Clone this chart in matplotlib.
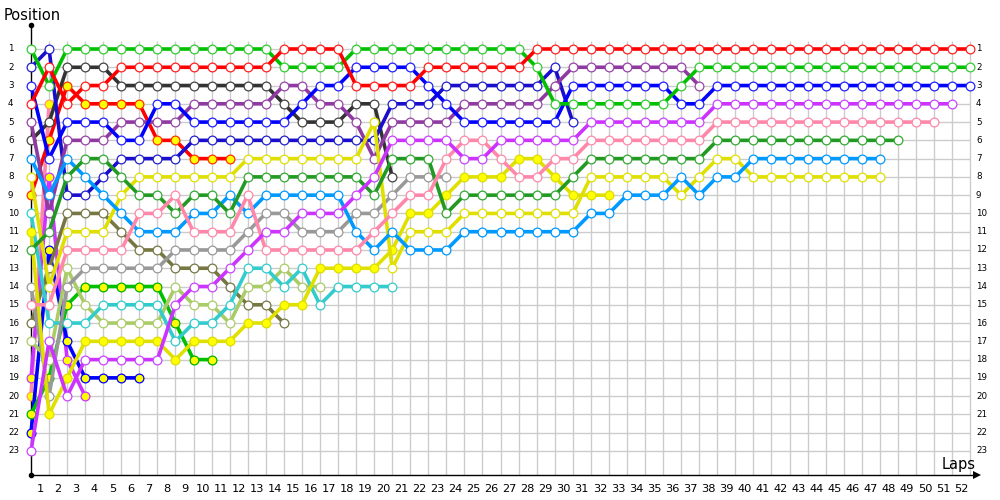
import matplotlib
matplotlib.use("Agg")
import matplotlib.pyplot as plt
from matplotlib.transforms import blended_transform_factory

# ---------------- data (position at each lap, starting at lap 0 = grid) ----------------
lap_labels = [str(k) for k in range(1, 53)]
position_labels = [str(p) for p in range(1, 24)]

red_white = [4, 2, 4, 3, 3, 2, 2, 2, 2, 2, 2, 2, 2, 2, 1, 1, 1, 1, 3, 3, 3, 3, 2, 2, 2, 2, 2, 2,
             1, 1, 1, 1, 1, 1, 1, 1, 1, 1, 1, 1, 1, 1, 1, 1, 1, 1, 1, 1, 1, 1, 1, 1, 1]
green_white = [1, 3, 1, 1, 1, 1, 1, 1, 1, 1, 1, 1, 1, 1, 2, 2, 2, 2, 1, 1, 1, 1, 1, 1, 1, 1, 1, 1,
               2, 4, 4, 4, 4, 4, 4, 4, 3, 2, 2, 2, 2, 2, 2, 2, 2, 2, 2, 2, 2, 2, 2, 2, 2]
blue_white = [3, 7, 5, 5, 5, 6, 6, 4, 4, 5, 5, 5, 5, 5, 5, 4, 3, 3, 2, 2, 2, 2, 3, 4, 5, 5, 5, 5,
              5, 5, 3, 3, 3, 3, 3, 3, 4, 4, 3, 3, 3, 3, 3, 3, 3, 3, 3, 3, 3, 3, 3, 3, 3]
violet_white = [23, 17, 20, 18, 18, 18, 18, 18, 15, 14, 14, 13, 12, 11, 11, 10, 10, 10, 9, 8, 6, 6,
                6, 6, 7, 7, 6, 6, 6, 6, 6, 5, 5, 5, 5, 5, 5, 5, 4, 4, 4, 4, 4, 4, 4, 4, 4, 4,
                4, 4, 4, 4]
pink_white = [15, 15, 12, 12, 12, 12, 10, 10, 9, 11, 11, 11, 9, 12, 12, 12, 12, 12, 12, 11, 10, 9,
              9, 7, 6, 6, 7, 8, 8, 7, 7, 6, 6, 6, 6, 6, 6, 6, 5, 5, 5, 5, 5, 5, 5, 5, 5, 5, 5,
              5, 5]
darkgreen_white = [12, 11, 8, 7, 7, 8, 9, 9, 10, 9, 9, 10, 8, 8, 8, 8, 8, 8, 8, 9, 7, 7, 7, 10, 9,
                   9, 9, 9, 9, 9, 8, 7, 7, 7, 7, 7, 7, 7, 6, 6, 6, 6, 6, 6, 6, 6, 6, 6, 6]
lightblue_white = [7, 9, 7, 8, 9, 10, 11, 11, 11, 10, 10, 9, 10, 9, 9, 9, 9, 9, 11, 12, 11, 12, 12,
                   12, 11, 11, 11, 11, 11, 11, 11, 10, 10, 9, 9, 9, 8, 9, 8, 8, 7, 7, 7, 7, 7, 7,
                   7, 7]
yellow_white = [8, 14, 11, 11, 11, 9, 8, 8, 8, 8, 8, 8, 7, 7, 7, 7, 7, 7, 7, 5, 13, 11, 11, 11, 10,
                10, 10, 10, 10, 10, 10, 8, 8, 8, 8, 8, 9, 8, 7, 7, 8, 8, 8, 8, 8, 8, 8, 8]
purple_white = [5, 10, 6, 6, 6, 5, 5, 5, 5, 4, 4, 4, 4, 4, 3, 3, 4, 4, 5, 7, 5, 5, 5, 5, 4, 4, 4, 4,
                4, 3, 2, 2, 2, 2, 2, 2, 2, 3]
yellow_filled = [11, 21, 19, 17, 17, 17, 17, 17, 18, 17, 17, 17, 16, 16, 15, 15, 13, 13, 13, 13, 12,
                 10, 10, 9, 8, 8, 8, 7, 7, 8, 9, 9, 9]
navy_white = [2, 1, 9, 9, 8, 7, 7, 7, 7, 6, 6, 6, 6, 6, 6, 6, 6, 6, 6, 6, 4, 4, 4, 3, 3, 3, 3, 3, 3,
              2, 5]
grey_white = [14, 20, 14, 13, 13, 13, 13, 13, 12, 12, 12, 12, 11, 10, 10, 11, 11, 11, 10, 10, 9, 8,
              8, 8]
darkgrey_white = [6, 5, 2, 2, 2, 3, 3, 3, 3, 3, 3, 3, 3, 3, 4, 5, 5, 5, 4, 4, 8]
cyan_white = [10, 16, 16, 16, 15, 15, 15, 15, 17, 16, 16, 15, 13, 13, 14, 13, 15, 14, 14, 14, 14]
lightgreen_white = [17, 18, 13, 15, 16, 16, 16, 16, 14, 15, 15, 16, 14, 14, 13, 14, 14]
olive_white = [16, 13, 10, 10, 10, 11, 12, 12, 13, 13, 13, 14, 15, 15, 16]
red_filled = [9, 6, 3, 4, 4, 4, 4, 6, 6, 7, 7, 7]
green_filled = [21, 19, 15, 14, 14, 14, 14, 14, 16, 18, 18]
blue_filled = [22, 12, 17, 19, 19, 19, 19]
violet_filled = [19, 8, 18, 20]
pink_filled = [20, 4]

# (values, line colour, marker face colour, marker edge colour)
series = [
    (pink_filled, "#ff88aa", "#ffff00", "#ff9966"),
    (violet_filled, "#cc33ff", "#ffff00", "#cc33ff"),
    (blue_filled, "#0000ff", "#ffff00", "#0000ff"),
    (green_filled, "#00c000", "#ffff00", "#00b000"),
    (red_filled, "#ff0000", "#ffff00", "#ff3300"),
    (olive_white, "#777744", "white", "#777744"),
    (lightgreen_white, "#aacc66", "white", "#aacc66"),
    (cyan_white, "#33cccc", "white", "#33cccc"),
    (darkgrey_white, "#333333", "white", "#444444"),
    (grey_white, "#999999", "white", "#999999"),
    (navy_white, "#1a0dcc", "white", "#2222cc"),
    (yellow_filled, "#e0e000", "#ffff00", "#dddd00"),
    (purple_white, "#8e3aa0", "white", "#9944aa"),
    (yellow_white, "#e0e000", "white", "#e0e000"),
    (lightblue_white, "#0099ff", "white", "#0099ff"),
    (darkgreen_white, "#229922", "white", "#33aa33"),
    (pink_white, "#ff88aa", "white", "#ff88aa"),
    (violet_white, "#cc33ff", "white", "#cc44ff"),
    (blue_white, "#0000ff", "white", "#2222ff"),
    (green_white, "#00c000", "white", "#33cc33"),
    (red_white, "#ff0000", "white", "#ff2222"),
]

# ---------------- layout ----------------
W, H = 1000, 500
fig = plt.figure(figsize=(W / 100, H / 100), dpi=100)
x0_px, step_x = 31, 18.06
y1_px, step_y = 49, 18.27
ax_left, ax_right, ax_top, ax_bottom = 31, 985, 25, 475
ax = fig.add_axes([ax_left / W, 1 - ax_bottom / H, (ax_right - ax_left) / W, (ax_bottom - ax_top) / H])
ax.set_xlim(0, (ax_right - x0_px) / step_x)
ax.set_ylim(1 + (ax_bottom - y1_px) / step_y, 1 + (ax_top - y1_px) / step_y)
ax.axis("off")

n_laps = len(lap_labels)
n_pos = len(position_labels)
grid_c = "#cccccc"
ax.vlines(range(1, n_laps + 1), 0.55, 1 + (ax_bottom - y1_px) / step_y, colors=grid_c, lw=1.0, zorder=0)
ax.hlines(range(1, n_pos + 1), 0, n_laps, colors=grid_c, lw=1.0, zorder=0)

# axes lines with arrow heads
ybot = 1 + (ax_bottom - y1_px) / step_y
ytop = 1 + (ax_top - y1_px) / step_y
xr = (ax_right - 8 - x0_px) / step_x
ax.plot([0, 0], [ybot, ytop], color="black", lw=1.0, zorder=5, clip_on=False, solid_capstyle="butt")
ax.plot([0, xr], [ybot, ybot], color="black", lw=1.0, zorder=5, clip_on=False, solid_capstyle="butt")
ax.plot([0], [ytop], marker="o", ms=3, color="black", zorder=6, clip_on=False)
ax.plot([0], [ybot], marker="o", ms=3, color="black", zorder=6, clip_on=False)
ax.plot([xr], [ybot], marker=">", ms=6, color="black", mew=0, zorder=6, clip_on=False)

# ---------------- series ----------------
for i, (vals, lc, fc, ec) in enumerate(series):
    laps = list(range(len(vals)))
    ax.plot(laps, vals, color=lc, lw=2.6, solid_joinstyle="round", solid_capstyle="round",
            zorder=10 + 2 * i, clip_on=False)
    ax.plot(laps, vals, ls="none", marker="o", ms=6.3, mfc=fc, mec=ec, mew=0.9,
            zorder=11 + 2 * i, clip_on=False)

# ---------------- labels ----------------
tx = blended_transform_factory(ax.transData, fig.transFigure)
for k, lab in enumerate(lap_labels, start=1):
    ax.text(k - 0.5, 1 - 489 / H, lab, ha="center", va="center", fontsize=8.2,
            transform=tx, family="DejaVu Sans")
ty = blended_transform_factory(fig.transFigure, ax.transData)
for p, lab in enumerate(position_labels, start=1):
    ax.text(8 / W, p, lab, ha="left", va="center", fontsize=6.3, transform=ty, family="DejaVu Sans")
    ax.text(976 / W, p, lab, ha="left", va="center", fontsize=6.3, transform=ty, family="DejaVu Sans")

fig.text(4 / W, 1 - 15 / H, "Position", ha="left", va="center", fontsize=10.5, family="DejaVu Sans")
fig.text(942 / W, 1 - 465 / H, "Laps", ha="left", va="center", fontsize=10.5, family="DejaVu Sans")

fig.savefig("out.png", dpi=100)
